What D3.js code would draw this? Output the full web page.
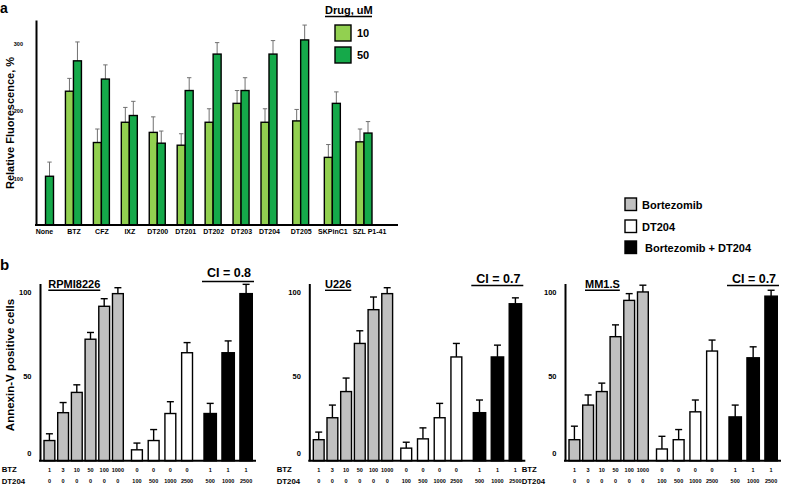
<!DOCTYPE html>
<html><head><meta charset="utf-8">
<script src="https://cdn.jsdelivr.net/npm/d3@7"></script>
<style>
body{margin:0;background:#fff}
svg{display:block}
text{font-family:"Liberation Sans",Arial,Helvetica,sans-serif;font-weight:bold;fill:#000}
</style>
</head><body>
<svg id="c" width="786" height="486"></svg>
<script>
// ---------- Panel a data ----------
const drugs = ["None","BTZ","CFZ","IXZ","DT200","DT201","DT202","DT203","DT204","DT205","SKPinC1","SZL P1-41"];
const doses = ["10","50"];
const fluor10    = [null,229,153,183,168,149,183,211,183,185,131,154];
const fluor10Err = [null, 19, 20, 22, 23, 17, 20, 19, 20, 17, 19, 19];
const fluor50    = [103,274,247,193,152,230,284,230,284,305,211,167];
const fluor50Err = [ 21, 28, 21, 21, 18, 19, 17, 19, 20, 22, 17, 17];
const fluorTicks = [100,200,300];

// ---------- Panel b data ----------
const cellLines = ["RPMI8226","U226","MM1.S"];
const ciLabels = ["CI = 0.8","CI = 0.7","CI = 0.7"];
const treatments = ["Bortezomib","DT204","Bortezomib + DT204"];
const btzDose   = ["1","3","10","50","100","1000","0","0","0","0","1","1","1"];
const dt204Dose = ["0","0","0","0","0","0","100","500","1000","2500","500","1000","2500"];
const treatmentOf = ["Bortezomib","Bortezomib","Bortezomib","Bortezomib","Bortezomib","Bortezomib","DT204","DT204","DT204","DT204","Bortezomib + DT204","Bortezomib + DT204","Bortezomib + DT204"];
const rpmiVals = [12,28.5,40.5,72,91.5,99,6.5,12,28,64,28,64,99];
const rpmiErr  = [4,6,4.5,4,4.5,3.5,4,6.5,7,6,6,7,5.5];
const u226Vals = [12.5,25.5,41,69.5,89.5,99,7.5,13,25.5,61.5,28.5,61.5,93];
const u226Err  = [4.5,7.5,8,7.5,7.5,3.5,3.5,6.5,8.5,8,7.5,7,3.5];
const mm1sVals = [12.5,33,41,73.5,95,100,7,12.5,29,65,26,61,97.5];
const mm1sErr  = [8,6,5,7,4,4,7.5,6,7,6.5,7,6.5,3.5];
const annexinTicks = [0,50,100];

// ---------- styles ----------
const colA = {"10":"#92d050","50":"#15a94a"};
const colB = {"Bortezomib":"#c0c0c0","DT204":"#ffffff","Bortezomib + DT204":"#000000"};

const svg = d3.select("#c");

// ================= Panel a =================
const ga = svg.append("g");
ga.append("text").attr("x",0).attr("y",13).attr("font-size",14).text("a");

// piecewise-linear position scale over category index (wider spacing after DT204)
const xa = d3.scaleLinear().domain([0, 8, drugs.length-1]).range([45.5, 269, 364]);
const xs = d3.scaleBand().domain(doses).range([-8, 8]);
const ya = d3.scaleLinear().domain([30.8, 334.5]).range([225, 20]);

const rowsA = [];
drugs.forEach((d,i)=>{
  if (fluor10[i]!=null) rowsA.push({i,dose:"10",v:fluor10[i],e:fluor10Err[i]});
  if (fluor50[i]!=null) rowsA.push({i,dose:"50",v:fluor50[i],e:fluor50Err[i]});
});
const cx = d => xa(d.i) + xs(d.dose);

// error bars (behind)
const eA = ga.append("g").attr("stroke","#707070").attr("stroke-width",1);
rowsA.forEach(d=>{
  const xm = cx(d)+xs.bandwidth()/2;
  eA.append("line").attr("x1",xm).attr("x2",xm).attr("y1",ya(d.v)).attr("y2",ya(d.v+d.e));
  eA.append("line").attr("x1",xm-2.2).attr("x2",xm+2.2).attr("y1",ya(d.v+d.e)).attr("y2",ya(d.v+d.e));
});
ga.append("g").selectAll("rect").data(rowsA).join("rect")
  .attr("x",d=>cx(d)).attr("width",xs.bandwidth())
  .attr("y",d=>ya(d.v)).attr("height",d=>ya.range()[0]-ya(d.v))
  .attr("fill",d=>colA[d.dose]).attr("stroke","#000").attr("stroke-width",1.4);

// axes
const axA = ga.append("g").attr("transform","translate(36,0)")
  .call(d3.axisLeft(ya).tickValues(fluorTicks).tickSize(0).tickSizeOuter(0).tickPadding(13));
axA.select(".domain").attr("stroke","#000").attr("stroke-width",2);
axA.selectAll("text").attr("font-size",5.5).attr("font-family","Liberation Sans").attr("font-weight","bold");
ga.append("line").attr("x1",35).attr("x2",398).attr("y1",225).attr("y2",225).attr("stroke","#000").attr("stroke-width",2);
const axAx = ga.append("g").attr("transform","translate(0,227)")
  .call(d3.axisBottom(xa).tickValues(d3.range(drugs.length)).tickFormat(i=>drugs[i]).tickSize(0).tickPadding(2));
axAx.select(".domain").remove();
axAx.selectAll("text").attr("font-size",7).attr("font-family","Liberation Sans").attr("font-weight","bold");
axAx.selectAll(".tick").filter(i=>i===0).select("text").attr("dx","-1.5");
axAx.selectAll(".tick").filter(i=>i===drugs.length-1).select("text").attr("dx","5");

ga.append("text").attr("transform","translate(14,123) rotate(-90)").attr("text-anchor","middle")
  .attr("font-size",11).text("Relative Fluorescence, %");

// legend a
const lgA = ga.append("g");
lgA.append("text").attr("x",325).attr("y",14).attr("font-size",11).text("Drug, uM");
lgA.append("line").attr("x1",325).attr("x2",372).attr("y1",16.5).attr("y2",16.5).attr("stroke","#000").attr("stroke-width",1.3);
doses.forEach((k,i)=>{
  lgA.append("rect").attr("x",335).attr("y",25+i*22).attr("width",16).attr("height",16)
    .attr("fill",colA[k]).attr("stroke","#000").attr("stroke-width",1.4);
  lgA.append("text").attr("x",357).attr("y",37+i*22).attr("font-size",11).text(k);
});

// ================= Panel b =================
const gb = svg.append("g");
gb.append("text").attr("x",0).attr("y",270).attr("font-size",15).text("b");

// legend b
treatments.forEach((t,i)=>{
  const yy = [198,220,241][i];
  gb.append("rect").attr("x",625).attr("y",yy).attr("width",11.5).attr("height",12.5)
    .attr("fill",colB[t]).attr("stroke","#000").attr("stroke-width",1.4);
  gb.append("text").attr("x",i===2?645:642).attr("y",yy+10.5).attr("font-size",11).text(t);
});

gb.append("text").attr("transform","translate(14,365) rotate(-90)").attr("text-anchor","middle")
  .attr("font-size",11.5).text("Annexin-V positive cells");

const yb = d3.scaleLinear().domain([0,105]).range([460.8, 283.5]);
const bVals = [rpmiVals,u226Vals,mm1sVals];
const bErrs = [rpmiErr,u226Err,mm1sErr];
const bLayout = [
  {ax:40,   title:8.3,  hdr:1.7,   ciY:276.5, lineY:281.5},
  {ax:309.3,title:15.7, hdr:276.7, ciY:282.5, lineY:285.5},
  {ax:565,  title:20,   hdr:521.7, ciY:282.5, lineY:285.5}
];
const idx = d3.range(btzDose.length);

cellLines.forEach((cl,p)=>{
  const L = bLayout[p];
  const g = gb.append("g");
  const ax = L.ax;
  // per-treatment band scales
  const groups = {
    "Bortezomib": d3.scaleBand().domain(idx.filter(i=>treatmentOf[i]==="Bortezomib")).range([ax+4, ax+83.3]).paddingInner(0.21),
    "DT204": d3.scaleBand().domain(idx.filter(i=>treatmentOf[i]==="DT204")).range([ax+91.5, ax+152.5]).paddingInner(0.35),
    "Bortezomib + DT204": d3.scaleBand().domain(idx.filter(i=>treatmentOf[i]==="Bortezomib + DT204")).range([ax+164, ax+212.3]).paddingInner(0.31)
  };
  const data = idx.map(i=>({i, t:treatmentOf[i], v:bVals[p][i], e:bErrs[p][i]}));
  const bx = d => groups[d.t](d.i);
  const bw = d => groups[d.t].bandwidth();

  // error bars
  const eg = g.append("g").attr("stroke","#000").attr("stroke-width",1.4);
  data.forEach(d=>{
    const xm = bx(d)+bw(d)/2;
    eg.append("line").attr("x1",xm).attr("x2",xm).attr("y1",yb(d.v)).attr("y2",yb(d.v+d.e));
    eg.append("line").attr("x1",xm-3.5).attr("x2",xm+3.5).attr("y1",yb(d.v+d.e)).attr("y2",yb(d.v+d.e));
  });
  g.append("g").selectAll("rect").data(data).join("rect")
    .attr("x",bx).attr("width",bw)
    .attr("y",d=>yb(d.v)).attr("height",d=>yb(0)-yb(d.v))
    .attr("fill",d=>colB[d.t]).attr("stroke","#000").attr("stroke-width",1.4);

  // y axis
  const ay = g.append("g").attr("transform",`translate(${ax},0)`)
    .call(d3.axisLeft(yb).tickValues(annexinTicks).tickSize(0).tickSizeOuter(0).tickPadding(8.5));
  ay.select(".domain").attr("stroke","#000").attr("stroke-width",2);
  ay.selectAll("text").attr("font-size",7.5).attr("font-family","Liberation Sans").attr("font-weight","bold");
  ay.selectAll(".tick").filter(d=>d===0).select("text").attr("dy","-0.75em");
  // x axis line
  g.append("line").attr("x1",ax-1).attr("x2",ax+216).attr("y1",yb(0)).attr("y2",yb(0))
    .attr("stroke","#000").attr("stroke-width",2);

  // dose labels
  data.forEach(d=>{
    const xm = bx(d)+bw(d)/2;
    g.append("text").attr("x",xm).attr("y",471.5).attr("text-anchor","middle").attr("font-size",5.5).text(btzDose[d.i]);
    g.append("text").attr("x",xm).attr("y",483).attr("text-anchor","middle").attr("font-size",5.5).text(dt204Dose[d.i]);
  });
  g.append("text").attr("x",L.hdr).attr("y",472).attr("font-size",7.8).text("BTZ");
  g.append("text").attr("x",L.hdr).attr("y",483.5).attr("font-size",7.8).text("DT204");

  // title
  const tt = g.append("text").attr("x",ax+L.title).attr("y",287.5).attr("font-size",11).text(cl);
  const tw = tt.node().getComputedTextLength();
  g.append("line").attr("x1",ax+L.title).attr("x2",ax+L.title+tw).attr("y1",290.3).attr("y2",290.3)
    .attr("stroke","#000").attr("stroke-width",1.4);

  // CI
  const bg = groups["Bortezomib + DT204"];
  const x0 = bg.range()[0]-2, x1 = ax+214;
  g.append("line").attr("x1",x0).attr("x2",x1).attr("y1",L.lineY).attr("y2",L.lineY)
    .attr("stroke","#000").attr("stroke-width",1.6);
  g.append("text").attr("x",(x0+x1)/2+1).attr("y",L.ciY).attr("text-anchor","middle").attr("font-size",12.5).text(ciLabels[p]);
});
</script>
</body></html>
